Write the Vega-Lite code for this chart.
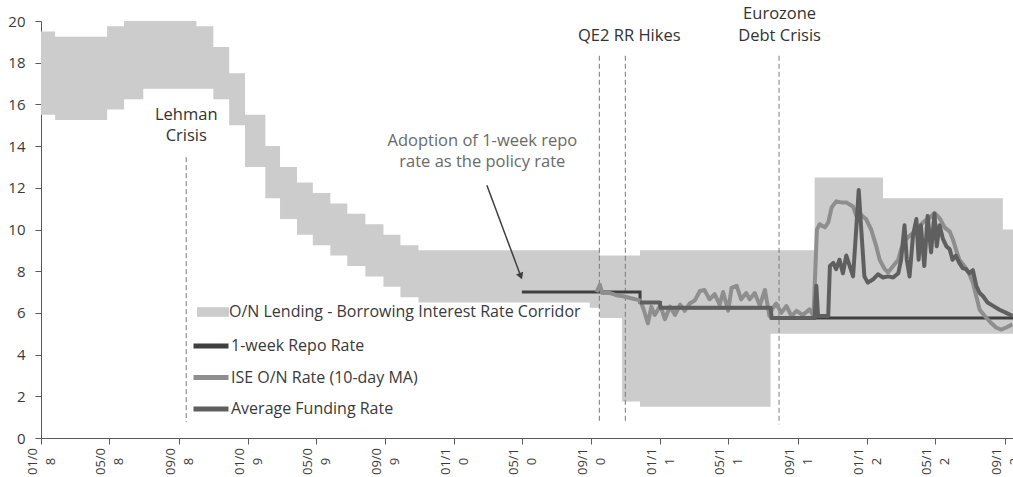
{
  "$schema": "https://vega.github.io/schema/vega-lite/v6.json",
  "width": 972,
  "height": 417,
  "autosize": {"type": "none"},
  "padding": {"left": 41, "top": 21, "right": 0, "bottom": 39},
  "background": "white",
  "config": {
    "view": {"stroke": null},
    "font": "Open Sans",
    "axis": {"grid": false, "title": null, "domainColor": "#5a5a5a", "tickColor": "#5a5a5a", "labelColor": "#3a3a3a", "labelFont": "Open Sans"},
    "legend": {"orient": "none", "title": null, "symbolSize": 1024, "symbolStrokeWidth": 5, "labelFontSize": 16, "labelColor": "#3a3a3a", "labelFont": "Open Sans", "labelLimit": 0, "rowPadding": 1.5, "labelOffset": 0, "padding": 0}
  },
  "datasets": {
    "corridor": [
      {"date": "2008-01-01", "upper": 19.5, "lower": 15.5},
      {"date": "2008-01-26", "upper": 19.25, "lower": 15.25},
      {"date": "2008-04-27", "upper": 19.75, "lower": 15.75},
      {"date": "2008-05-27", "upper": 20, "lower": 16.25},
      {"date": "2008-06-30", "upper": 20, "lower": 16.75},
      {"date": "2008-10-02", "upper": 19.75, "lower": 16.75},
      {"date": "2008-11-01", "upper": 18.75, "lower": 16.25},
      {"date": "2008-11-29", "upper": 17.5, "lower": 15},
      {"date": "2008-12-27", "upper": 15.5, "lower": 13},
      {"date": "2009-02-01", "upper": 14, "lower": 11.5},
      {"date": "2009-02-27", "upper": 13, "lower": 10.5},
      {"date": "2009-03-29", "upper": 12.25, "lower": 9.75},
      {"date": "2009-04-26", "upper": 11.75, "lower": 9.25},
      {"date": "2009-05-27", "upper": 11.25, "lower": 8.75},
      {"date": "2009-06-26", "upper": 10.75, "lower": 8.25},
      {"date": "2009-07-28", "upper": 10.25, "lower": 7.75},
      {"date": "2009-08-29", "upper": 9.75, "lower": 7.25},
      {"date": "2009-09-28", "upper": 9.25, "lower": 6.75},
      {"date": "2009-10-30", "upper": 9, "lower": 6.5},
      {"date": "2010-08-29", "upper": 9, "lower": 6.25},
      {"date": "2010-09-16", "upper": 8.75, "lower": 5.75},
      {"date": "2010-10-25", "upper": 8.75, "lower": 1.75},
      {"date": "2010-11-26", "upper": 9, "lower": 1.5},
      {"date": "2011-07-15", "upper": 9, "lower": 5},
      {"date": "2011-10-01", "upper": 12.5, "lower": 5},
      {"date": "2012-01-30", "upper": 11.5, "lower": 5},
      {"date": "2012-08-29", "upper": 10, "lower": 5},
      {"date": "2012-09-16", "upper": 10, "lower": 5}
    ],
    "events": [
      {"date": "2008-09-14", "top": 13.47, "bottom": 0.76},
      {"date": "2010-09-15", "top": 18.33, "bottom": 0.7},
      {"date": "2010-10-31", "top": 18.33, "bottom": 0.7},
      {"date": "2011-07-30", "top": 18.33, "bottom": 0.65}
    ],
    "notes": [
      {"date": "2008-09-14", "value": 15.48, "text": "Lehman"},
      {"date": "2008-09-14", "value": 14.47, "text": "Crisis"},
      {"date": "2010-11-07", "value": 19.29, "text": "QE2 RR Hikes"},
      {"date": "2011-07-31", "value": 20.33, "text": "Eurozone"},
      {"date": "2011-07-31", "value": 19.29, "text": "Debt Crisis"}
    ],
    "adoption": [
      {"date": "2010-02-20", "value": 14.63, "text": "Adoption of 1-week repo\nrate as the policy rate"}
    ],
    "arrow": [
      {"date": "2010-02-28", "value": 12.12},
      {"date": "2010-04-29", "value": 7.76}
    ],
    "arrowhead": [
      {"date": "2010-04-29", "value": 7.76}
    ],
    "repo": [
      {"date": "2010-05-01", "value": 7},
      {"date": "2010-11-26", "value": 6.5},
      {"date": "2011-01-01", "value": 6.25},
      {"date": "2011-07-16", "value": 5.75},
      {"date": "2012-09-16", "value": 5.75}
    ],
    "ise": [
      {"date": "2010-09-10", "value": 7.0},
      {"date": "2010-09-16", "value": 7.35},
      {"date": "2010-09-20", "value": 6.95},
      {"date": "2010-10-04", "value": 6.95},
      {"date": "2010-10-15", "value": 6.85},
      {"date": "2010-10-27", "value": 6.8},
      {"date": "2010-11-10", "value": 6.7},
      {"date": "2010-11-26", "value": 6.6},
      {"date": "2010-12-02", "value": 6.2},
      {"date": "2010-12-10", "value": 5.5},
      {"date": "2010-12-16", "value": 6.3},
      {"date": "2010-12-22", "value": 5.9},
      {"date": "2011-01-01", "value": 6.35},
      {"date": "2011-01-09", "value": 5.7},
      {"date": "2011-01-18", "value": 6.3},
      {"date": "2011-01-27", "value": 5.9},
      {"date": "2011-02-05", "value": 6.4},
      {"date": "2011-02-13", "value": 6.1},
      {"date": "2011-02-22", "value": 6.45},
      {"date": "2011-03-03", "value": 6.6},
      {"date": "2011-03-12", "value": 7.05},
      {"date": "2011-03-20", "value": 7.1},
      {"date": "2011-03-29", "value": 6.65},
      {"date": "2011-04-07", "value": 6.9},
      {"date": "2011-04-16", "value": 6.4},
      {"date": "2011-04-22", "value": 7.0},
      {"date": "2011-05-01", "value": 6.1},
      {"date": "2011-05-07", "value": 7.2},
      {"date": "2011-05-16", "value": 7.3},
      {"date": "2011-05-24", "value": 6.65},
      {"date": "2011-06-02", "value": 6.95},
      {"date": "2011-06-08", "value": 6.65},
      {"date": "2011-06-17", "value": 6.95},
      {"date": "2011-06-26", "value": 6.35},
      {"date": "2011-07-05", "value": 7.1},
      {"date": "2011-07-13", "value": 5.85},
      {"date": "2011-07-18", "value": 6.2},
      {"date": "2011-07-25", "value": 6.45},
      {"date": "2011-08-03", "value": 6.0},
      {"date": "2011-08-12", "value": 6.33},
      {"date": "2011-08-21", "value": 5.85},
      {"date": "2011-08-30", "value": 6.1},
      {"date": "2011-09-10", "value": 5.9},
      {"date": "2011-09-22", "value": 6.17},
      {"date": "2011-09-29", "value": 5.85},
      {"date": "2011-10-03", "value": 8.6},
      {"date": "2011-10-05", "value": 10.0},
      {"date": "2011-10-10", "value": 10.25},
      {"date": "2011-10-19", "value": 10.1},
      {"date": "2011-10-25", "value": 10.33},
      {"date": "2011-10-31", "value": 11.05},
      {"date": "2011-11-08", "value": 11.35},
      {"date": "2011-11-17", "value": 11.3},
      {"date": "2011-11-26", "value": 11.3},
      {"date": "2011-12-02", "value": 11.2},
      {"date": "2011-12-08", "value": 11.1},
      {"date": "2011-12-14", "value": 10.65},
      {"date": "2011-12-22", "value": 10.7},
      {"date": "2011-12-31", "value": 10.5},
      {"date": "2012-01-09", "value": 10.0},
      {"date": "2012-01-18", "value": 9.2},
      {"date": "2012-01-24", "value": 8.55},
      {"date": "2012-02-02", "value": 8.1},
      {"date": "2012-02-08", "value": 7.95},
      {"date": "2012-02-17", "value": 8.25},
      {"date": "2012-02-26", "value": 8.55},
      {"date": "2012-03-02", "value": 9.05},
      {"date": "2012-03-08", "value": 9.45},
      {"date": "2012-03-17", "value": 9.7},
      {"date": "2012-03-26", "value": 9.9},
      {"date": "2012-04-03", "value": 10.15},
      {"date": "2012-04-12", "value": 10.4},
      {"date": "2012-04-21", "value": 10.55},
      {"date": "2012-04-30", "value": 10.8},
      {"date": "2012-05-09", "value": 10.55},
      {"date": "2012-05-18", "value": 10.1},
      {"date": "2012-05-27", "value": 9.9},
      {"date": "2012-06-02", "value": 9.5},
      {"date": "2012-06-07", "value": 9.05},
      {"date": "2012-06-13", "value": 8.55},
      {"date": "2012-06-22", "value": 8.25},
      {"date": "2012-07-01", "value": 7.85},
      {"date": "2012-07-07", "value": 7.45},
      {"date": "2012-07-13", "value": 6.8},
      {"date": "2012-07-19", "value": 6.15},
      {"date": "2012-07-28", "value": 5.85},
      {"date": "2012-08-07", "value": 5.55},
      {"date": "2012-08-17", "value": 5.3},
      {"date": "2012-08-26", "value": 5.2},
      {"date": "2012-09-04", "value": 5.3},
      {"date": "2012-09-15", "value": 5.45}
    ],
    "afr": [
      {"date": "2010-11-26", "value": 6.5},
      {"date": "2010-12-31", "value": 6.5},
      {"date": "2011-01-01", "value": 6.25},
      {"date": "2011-07-15", "value": 6.25},
      {"date": "2011-07-17", "value": 5.75},
      {"date": "2011-10-01", "value": 5.75},
      {"date": "2011-10-04", "value": 7.3},
      {"date": "2011-10-07", "value": 5.85},
      {"date": "2011-10-25", "value": 5.85},
      {"date": "2011-10-28", "value": 8.25},
      {"date": "2011-11-03", "value": 8.4},
      {"date": "2011-11-08", "value": 8.1},
      {"date": "2011-11-14", "value": 8.55},
      {"date": "2011-11-20", "value": 7.9},
      {"date": "2011-11-26", "value": 8.75},
      {"date": "2011-12-02", "value": 8.25},
      {"date": "2011-12-08", "value": 7.75},
      {"date": "2011-12-14", "value": 10.2},
      {"date": "2011-12-18", "value": 11.9},
      {"date": "2011-12-22", "value": 10.2},
      {"date": "2011-12-28", "value": 7.75},
      {"date": "2012-01-03", "value": 7.45},
      {"date": "2012-01-12", "value": 7.6},
      {"date": "2012-01-21", "value": 7.85},
      {"date": "2012-01-30", "value": 7.7},
      {"date": "2012-02-08", "value": 7.75},
      {"date": "2012-02-17", "value": 7.7},
      {"date": "2012-02-26", "value": 7.9},
      {"date": "2012-03-02", "value": 8.55},
      {"date": "2012-03-08", "value": 10.2},
      {"date": "2012-03-12", "value": 8.55},
      {"date": "2012-03-17", "value": 7.75},
      {"date": "2012-03-23", "value": 9.7},
      {"date": "2012-03-29", "value": 10.5},
      {"date": "2012-04-02", "value": 8.55},
      {"date": "2012-04-06", "value": 10.2},
      {"date": "2012-04-12", "value": 8.25},
      {"date": "2012-04-18", "value": 10.65},
      {"date": "2012-04-24", "value": 8.9},
      {"date": "2012-04-30", "value": 10.75},
      {"date": "2012-05-04", "value": 9.2},
      {"date": "2012-05-09", "value": 10.2},
      {"date": "2012-05-15", "value": 9.55},
      {"date": "2012-05-21", "value": 9.2},
      {"date": "2012-05-27", "value": 9.05},
      {"date": "2012-06-01", "value": 8.55},
      {"date": "2012-06-07", "value": 8.75},
      {"date": "2012-06-13", "value": 8.4},
      {"date": "2012-06-19", "value": 8.15},
      {"date": "2012-06-25", "value": 8.1},
      {"date": "2012-07-01", "value": 7.9},
      {"date": "2012-07-07", "value": 8.05},
      {"date": "2012-07-13", "value": 7.3},
      {"date": "2012-07-19", "value": 6.95},
      {"date": "2012-07-25", "value": 6.8},
      {"date": "2012-08-02", "value": 6.5},
      {"date": "2012-08-11", "value": 6.35},
      {"date": "2012-08-23", "value": 6.15},
      {"date": "2012-09-04", "value": 6.0},
      {"date": "2012-09-15", "value": 5.85}
    ]
  },
  "layer": [
    {
      "data": {"name": "corridor"},
      "mark": {"type": "area", "interpolate": "step-after"},
      "encoding": {
        "x": {
          "field": "date", "type": "temporal",
          "scale": {"type": "utc", "domain": [{"year": 2008, "month": 1, "date": 1, "utc": true}, {"year": 2012, "month": 9, "date": 16, "utc": true}]},
          "axis": {
            "values": [
              {"year": 2008, "month": 1, "date": 1, "utc": true}, {"year": 2008, "month": 5, "date": 1, "utc": true}, {"year": 2008, "month": 9, "date": 1, "utc": true},
              {"year": 2009, "month": 1, "date": 1, "utc": true}, {"year": 2009, "month": 5, "date": 1, "utc": true}, {"year": 2009, "month": 9, "date": 1, "utc": true},
              {"year": 2010, "month": 1, "date": 1, "utc": true}, {"year": 2010, "month": 5, "date": 1, "utc": true}, {"year": 2010, "month": 9, "date": 1, "utc": true},
              {"year": 2011, "month": 1, "date": 1, "utc": true}, {"year": 2011, "month": 5, "date": 1, "utc": true}, {"year": 2011, "month": 9, "date": 1, "utc": true},
              {"year": 2012, "month": 1, "date": 1, "utc": true}, {"year": 2012, "month": 5, "date": 1, "utc": true}, {"year": 2012, "month": 9, "date": 1, "utc": true}
            ],
            "format": "%m/%y",
            "labelExpr": "[substring(datum.label, 0, 4), substring(datum.label, 4)]",
            "labelAngle": 270, "labelAlign": "center", "labelBaseline": "middle",
            "labelPadding": 17, "labelOffset": -8.5, "tickSize": 6, "labelFontSize": 13, "labelLineHeight": 18,
            "labelOverlap": false, "labelFlush": false, "labelBound": false
          }
        },
        "y": {
          "field": "upper", "type": "quantitative",
          "scale": {"domain": [0, 20], "nice": false},
          "axis": {"values": [0, 2, 4, 6, 8, 10, 12, 14, 16, 18, 20], "tickSize": 6, "labelPadding": 10, "labelFontSize": 15}
        },
        "y2": {"field": "lower"},
        "fill": {
          "datum": "O/N Lending - Borrowing Interest Rate Corridor", "type": "nominal",
          "scale": {"range": ["#cccccc"]},
          "legend": {"symbolType": "M-1,-0.3H1V0.3H-1Z", "symbolStrokeWidth": 0, "legendX": 156, "legendY": 275}
        }
      }
    },
    {
      "data": {"name": "events"},
      "mark": {"type": "rule", "stroke": "#7a7a7a", "strokeWidth": 1, "strokeDash": [5, 3]},
      "encoding": {
        "x": {"field": "date", "type": "temporal"},
        "y": {"field": "top", "type": "quantitative"},
        "y2": {"field": "bottom"}
      }
    },
    {
      "data": {"name": "repo"},
      "mark": {"type": "line", "interpolate": "step-after", "strokeWidth": 3},
      "encoding": {
        "x": {"field": "date", "type": "temporal"},
        "y": {"field": "value", "type": "quantitative"},
        "color": {
          "datum": "1-week Repo Rate", "type": "nominal",
          "scale": {
            "domain": ["1-week Repo Rate", "ISE O/N Rate (10-day MA)", "Average Funding Rate"],
            "range": ["#3f3f3f", "#8e8e8e", "#5f5f5f"]
          },
          "legend": {"symbolType": "stroke", "symbolSize": 1225, "legendX": 150, "legendY": 305}
        }
      }
    },
    {
      "data": {"name": "ise"},
      "mark": {"type": "line", "strokeWidth": 4, "strokeJoin": "round"},
      "encoding": {
        "x": {"field": "date", "type": "temporal"},
        "y": {"field": "value", "type": "quantitative"},
        "color": {"datum": "ISE O/N Rate (10-day MA)", "type": "nominal"}
      }
    },
    {
      "data": {"name": "afr"},
      "mark": {"type": "line", "strokeWidth": 4, "strokeJoin": "round"},
      "encoding": {
        "x": {"field": "date", "type": "temporal"},
        "y": {"field": "value", "type": "quantitative"},
        "color": {"datum": "Average Funding Rate", "type": "nominal"}
      }
    },
    {
      "data": {"name": "arrow"},
      "mark": {"type": "line", "stroke": "#3f3f3f", "strokeWidth": 1.5},
      "encoding": {
        "x": {"field": "date", "type": "temporal"},
        "y": {"field": "value", "type": "quantitative"}
      }
    },
    {
      "data": {"name": "arrowhead"},
      "mark": {"type": "point", "shape": "triangle-down", "filled": true, "color": "#3f3f3f", "size": 60, "angle": 339, "opacity": 1},
      "encoding": {
        "x": {"field": "date", "type": "temporal"},
        "y": {"field": "value", "type": "quantitative"}
      }
    },
    {
      "data": {"name": "notes"},
      "mark": {"type": "text", "fontSize": 16.5, "font": "Open Sans", "color": "#333333", "align": "center", "baseline": "middle"},
      "encoding": {
        "x": {"field": "date", "type": "temporal"},
        "y": {"field": "value", "type": "quantitative"},
        "text": {"field": "text"}
      }
    },
    {
      "data": {"name": "adoption"},
      "mark": {"type": "text", "fontSize": 16.5, "font": "Open Sans", "color": "#6a6a6a", "align": "center", "baseline": "top", "lineBreak": "\n", "lineHeight": 20.6},
      "encoding": {
        "x": {"field": "date", "type": "temporal"},
        "y": {"field": "value", "type": "quantitative"},
        "text": {"field": "text"}
      }
    }
  ]
}
